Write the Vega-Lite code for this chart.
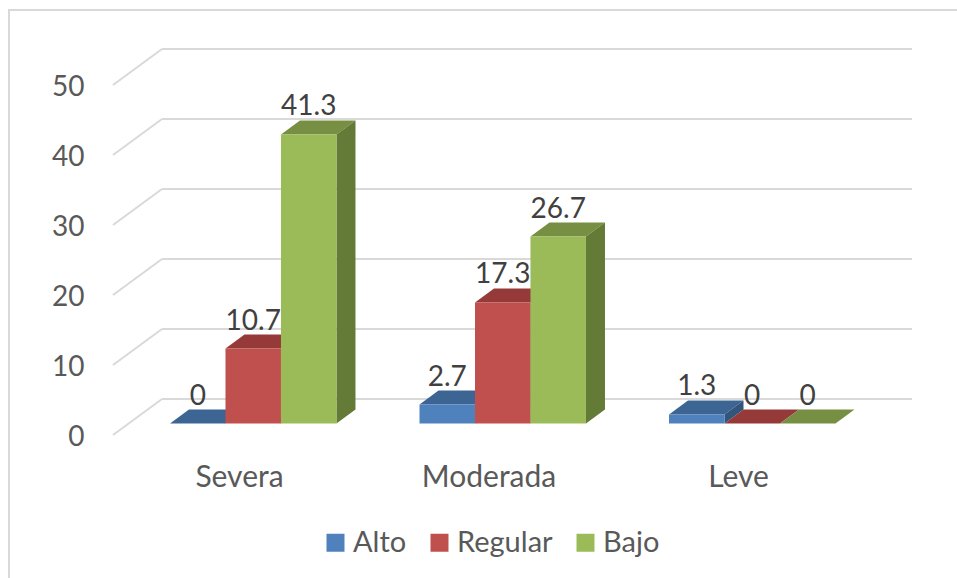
{
  "$schema": "https://vega.github.io/schema/vega-lite/v6.json",
  "width": 950,
  "height": 570,
  "autosize": "none",
  "padding": {"left": 9, "top": 10, "right": 0, "bottom": 0},
  "background": "#ffffff",
  "config": {"view": {"stroke": "#D9D9D9", "strokeWidth": 2}, "font": "Lato"},
  "data": {"values": [
    {"categoria": "Severa", "serie": "Alto", "valor": 0},
    {"categoria": "Severa", "serie": "Regular", "valor": 10.7},
    {"categoria": "Severa", "serie": "Bajo", "valor": 41.3},
    {"categoria": "Moderada", "serie": "Alto", "valor": 2.7},
    {"categoria": "Moderada", "serie": "Regular", "valor": 17.3},
    {"categoria": "Moderada", "serie": "Bajo", "valor": 26.7},
    {"categoria": "Leve", "serie": "Alto", "valor": 1.3},
    {"categoria": "Leve", "serie": "Regular", "valor": 0},
    {"categoria": "Leve", "serie": "Bajo", "valor": 0}
  ]},
  "transform": [
    {"calculate": "indexof(['Severa','Moderada','Leve'],datum.categoria)+indexof(['Alto','Regular','Bajo'],datum.serie)*0.2224", "as": "u"},
    {"calculate": "datum.u+0.2224", "as": "u2"}
  ],
  "layer": [
    {
      "data": {"values": [{"t": 0}, {"t": 10}, {"t": 20}, {"t": 30}, {"t": 40}, {"t": 50}]},
      "mark": {"type": "rule", "stroke": "#D9D9D9", "strokeWidth": 2, "yOffset": -24.5},
      "encoding": {
        "x": {"datum": -0.032, "type": "quantitative",
          "scale": {"domain": [0, 3], "range": [161, 909.5], "nice": false, "zero": false},
          "axis": {"title": null, "orient": "bottom", "grid": false, "domain": false, "ticks": false, "labelPadding": 0, "offset": -103, "labelBaseline": "middle", "values": [0.2766, 1.2766, 2.2766], "labelExpr": "['Severa','Moderada','Leve'][floor(datum.value)]", "labelFont": "Lato", "labelFontSize": 30, "labelColor": "#595959", "labelOverlap": false, "labelFlush": false}},
        "x2": {"datum": 2.974},
        "y": {"field": "t", "type": "quantitative",
          "scale": {"domain": [0, 50], "range": [413.5, 63.5], "nice": false, "zero": false},
          "axis": {"title": null, "orient": "left", "grid": false, "domain": false, "ticks": false, "labelPadding": 0, "offset": -75, "labelOffset": 13.5, "values": [0, 10, 20, 30, 40, 50], "labelFont": "Lato", "labelFontSize": 28, "labelColor": "#595959"}}
      }
    },
    {
      "data": {"values": [{"t": 0}, {"t": 10}, {"t": 20}, {"t": 30}, {"t": 40}, {"t": 50}]},
      "transform": [{"calculate": "datum.t-5.14", "as": "t2"}],
      "mark": {"type": "rule", "stroke": "#D9D9D9", "strokeWidth": 2, "yOffset": -24.5, "y2Offset": -24.5},
      "encoding": {
        "x": {"datum": -0.032, "type": "quantitative"},
        "x2": {"datum": -0.2285},
        "y": {"field": "t", "type": "quantitative"},
        "y2": {"field": "t2"}
      }
    },
    {
      "mark": {"type": "point", "shape": "M0,0L1.11,0L1.49,-0.28L0.38,-0.28Z", "filled": true, "size": 10000, "opacity": 1, "strokeWidth": 0},
      "encoding": {
        "x": {"field": "u", "type": "quantitative"},
        "y": {"field": "valor", "type": "quantitative"},
        "color": {"field": "serie", "type": "nominal", "legend": null,
          "scale": {"domain": ["Alto", "Regular", "Bajo"], "range": ["#3D6593", "#953A38", "#778F43"]}}
      }
    },
    {
      "transform": [
        {"calculate": "[0,1]", "as": "d"},
        {"flatten": ["d"]},
        {"calculate": "datum.u2+datum.d*0.0762", "as": "xs"},
        {"calculate": "datum.valor+datum.d*2", "as": "ys"},
        {"calculate": "datum.d*2", "as": "ys2"}
      ],
      "mark": {"type": "area", "opacity": 1, "strokeWidth": 0},
      "encoding": {
        "x": {"field": "xs", "type": "quantitative"},
        "y": {"field": "ys", "type": "quantitative"},
        "y2": {"field": "ys2"},
        "detail": {"field": "u"},
        "color": {"field": "serie", "type": "nominal", "legend": null,
          "scale": {"domain": ["Alto", "Regular", "Bajo"], "range": ["#33547B", "#7D3130", "#647A37"]}}
      }
    },
    {
      "mark": {"type": "rect", "strokeWidth": 0},
      "encoding": {
        "x": {"field": "u", "type": "quantitative"},
        "x2": {"field": "u2"},
        "y": {"field": "valor", "type": "quantitative"},
        "y2": {"datum": 0},
        "color": {"field": "serie", "type": "nominal",
          "scale": {"domain": ["Alto", "Regular", "Bajo"], "range": ["#4F81BD", "#C0504D", "#9BBB59"]},
          "legend": {"title": null, "orient": "none", "legendX": 312, "legendY": 518, "direction": "horizontal", "columns": 3, "padding": 0, "symbolType": "square", "symbolSize": 324, "symbolStrokeWidth": 0, "labelFont": "Lato", "labelFontSize": 29, "labelColor": "#595959", "labelOffset": 3, "columnPadding": 18, "symbolOpacity": 1}}
      }
    },
    {
      "mark": {"type": "text", "font": "Lato", "fontSize": 28, "fill": "#404040", "baseline": "middle", "align": "center", "xOffset": 27.75, "dy": -27},
      "encoding": {
        "x": {"field": "u", "type": "quantitative"},
        "y": {"field": "valor", "type": "quantitative"},
        "text": {"field": "valor", "type": "quantitative"}
      }
    }
  ],
  "resolve": {"scale": {"color": "independent"}}
}
